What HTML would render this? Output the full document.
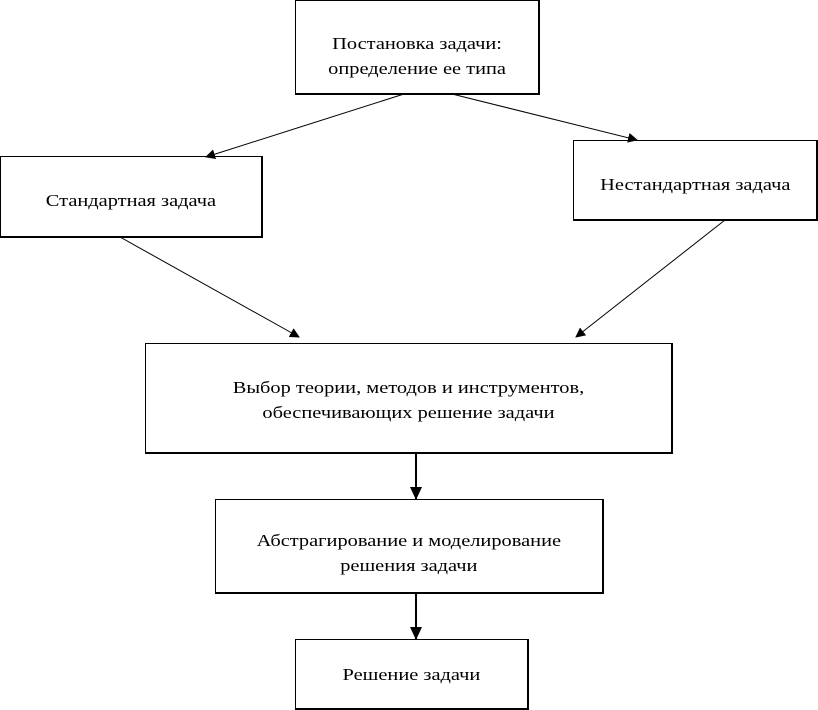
<!DOCTYPE html>
<html><head><meta charset="utf-8"><style>
body{margin:0;width:818px;height:709px;background:#fff;overflow:hidden;position:relative;font-family:"Liberation Serif",serif;font-size:17px;color:#000}
.b{position:absolute;box-sizing:border-box;border:1px solid #000;border-width:1px 2px 2px 1px;display:flex;align-items:center;justify-content:center;text-align:center;line-height:25px}
.b span{display:inline-block;transform:scaleX(1.2);white-space:nowrap}
svg{position:absolute;left:0;top:0}
</style></head><body>
<svg width="818" height="709">
<defs><marker id="a" markerWidth="10" markerHeight="10" refX="9" refY="5" orient="auto" markerUnits="userSpaceOnUse"><path d="M0,0 L10,5 L0,10 z" fill="#000"/></marker>
<marker id="a2" markerWidth="14" markerHeight="14" refX="13" refY="6" orient="auto" markerUnits="userSpaceOnUse"><path d="M0,0 L13,6 L0,12 z" fill="#000"/></marker></defs>
<g stroke="#000" stroke-width="1" fill="none">
<line x1="404" y1="94" x2="206" y2="157" marker-end="url(#a)"/>
<line x1="452" y1="94" x2="637" y2="140" marker-end="url(#a)"/>
<line x1="120" y1="237" x2="299" y2="337" marker-end="url(#a)"/>
<line x1="725" y1="220" x2="576" y2="337" marker-end="url(#a)"/>
<line x1="416" y1="453" x2="416" y2="500" stroke-width="2" marker-end="url(#a2)"/>
<line x1="416" y1="593" x2="416" y2="640" stroke-width="2" marker-end="url(#a2)"/>
</g></svg>
<div class="b" style="left:295px;top:0;width:245px;height:95px;padding-top:18px"><span>Постановка задачи:<br>определение ее типа</span></div>
<div class="b" style="left:0;top:156px;width:263px;height:82px;padding-top:8px"><span>Стандартная задача</span></div>
<div class="b" style="left:573px;top:140px;width:245px;height:81px;padding-top:8px"><span>Нестандартная задача</span></div>
<div class="b" style="left:145px;top:343px;width:528px;height:111px;padding-top:4px"><span>Выбор теории, методов и инструментов,<br>обеспечивающих решение задачи</span></div>
<div class="b" style="left:215px;top:499px;width:389px;height:95px;padding-top:14px"><span>Абстрагирование и моделирование<br>решения задачи</span></div>
<div class="b" style="left:295px;top:639px;width:234px;height:71px;padding-top:0"><span>Решение задачи</span></div>
</body></html>
